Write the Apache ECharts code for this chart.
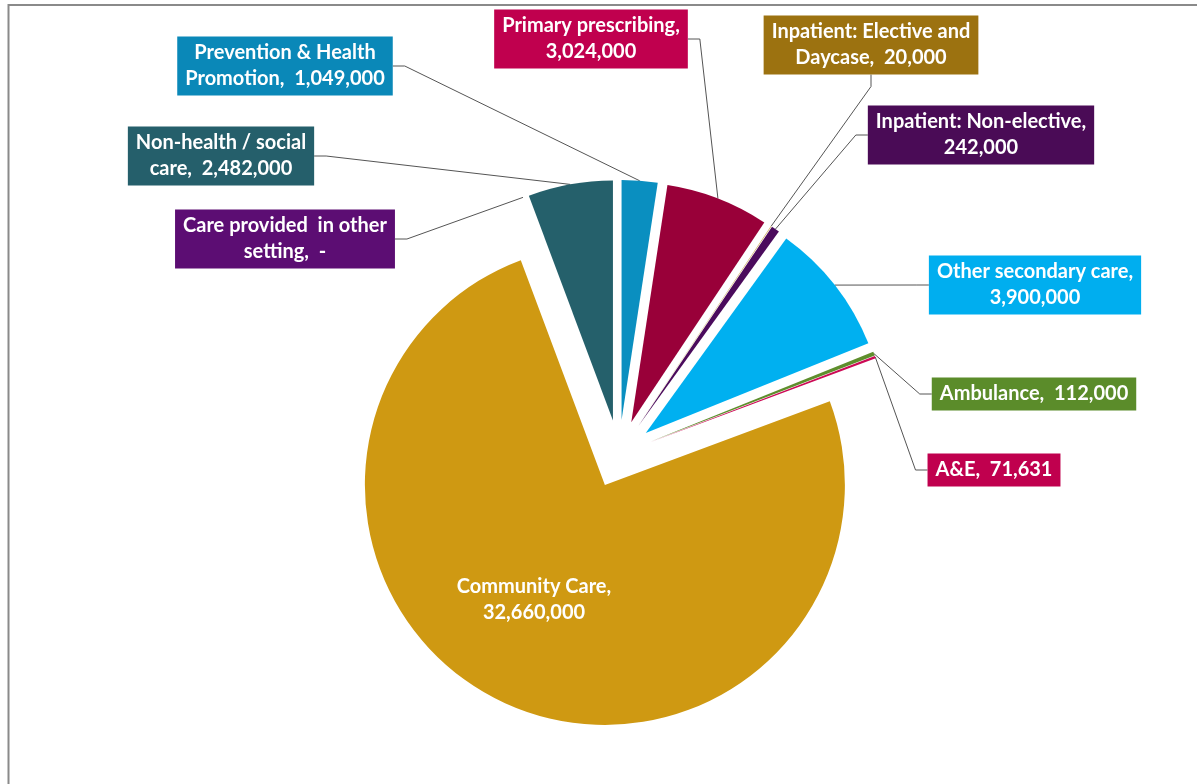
<!DOCTYPE html>
<html>
<head>
<meta charset="utf-8">
<script src="https://cdn.jsdelivr.net/npm/echarts@6/dist/echarts.min.js"></script>
<style>
  html, body { margin: 0; padding: 0; background: #ffffff; }
  #chart { width: 1197px; height: 784px; }
</style>
</head>
<body>
<div id="chart"></div>
<script>
// Spend by setting, slices in clockwise order from 12 o'clock
const categories = [
  'Prevention & Health\nPromotion',
  'Primary prescribing',
  'Inpatient: Elective and\nDaycase',
  'Inpatient: Non-elective',
  'Other secondary care',
  'Ambulance',
  'A&E',
  'Community Care',
  'Care provided  in other\nsetting',
  'Non-health / social\ncare'
];
const values = [1049000, 3024000, 20000, 242000, 3900000, 112000, 71631, 32660000, 0, 2482000];

// true where the value starts on its own line
const valueOnNewLine = [false, true, false, true, true, false, false, true, false, false];

const sliceColors = ['#0a8fc0', '#990039', '#c9a24a', '#4b0b5c', '#00b0f0', '#5e8e2c', '#cc0a55', '#cf9912', '#5c0d73', '#25606b'];
const labelColors = ['#0a88b8', '#c0004e', '#9c7210', '#4a0b56', '#00aeef', '#5b8c2a', '#c0004e', 'transparent', '#5c0d73', '#255f6b'];

// label box centres
const labelSpots = [
  [285, 66], [591, 39], [871, 45], [981, 135], [1035, 285],
  [1034, 394], [994, 470], [534, 600], [285, 239], [221, 156]
];

const PIE_CENTER = [619, 454];
const PIE_RADIUS = 240;
const EXPLODE = 34;

function fmtValue(v) {
  return v === 0 ? '-' : v.toLocaleString('en-US');
}

const chart = echarts.init(document.getElementById('chart'), null, { renderer: 'canvas' });

// exploded slices
const sliceData = categories.map((name, i) => ({
  name: name,
  value: values[i],
  selected: true,
  itemStyle: { color: sliceColors[i] }
}));

// labels ride on an invisible pie reaching the outer edge of the exploded slices
const labelData = categories.map((name, i) => {
  const item = {
    name: name,
    value: values[i],
    label: { backgroundColor: labelColors[i] }
  };
  if (i === 7) {
    item.label = { position: 'inside', backgroundColor: 'transparent', padding: 0 };
    item.labelLine = { show: false };
  }
  return item;
});

chart.setOption({
  animation: false,
  backgroundColor: '#ffffff',
  graphic: [{
    type: 'polyline',
    silent: true,
    shape: { points: [[8.5, 790], [8.5, 5], [1200, 5]] },
    style: { stroke: '#8a8a8a', lineWidth: 2, fill: null }
  }],
  series: [{
    type: 'pie',
    center: PIE_CENTER,
    radius: PIE_RADIUS,
    startAngle: 90,
    clockwise: true,
    selectedMode: 'multiple',
    selectedOffset: EXPLODE,
    silent: true,
    emphasis: { disabled: true },
    itemStyle: { borderWidth: 0 },
    label: { show: false },
    labelLine: { show: false },
    data: sliceData
  }, {
    type: 'pie',
    center: PIE_CENTER,
    radius: PIE_RADIUS + EXPLODE,
    startAngle: 90,
    clockwise: true,
    selectedMode: false,
    silent: true,
    avoidLabelOverlap: false,
    emphasis: { disabled: true },
    itemStyle: { color: 'rgba(0,0,0,0)', borderWidth: 0 },
    label: {
      show: true,
      position: 'outside',
      formatter: p => {
        const i = p.dataIndex;
        return p.name + ',' + (valueOnNewLine[i] ? '\n' : '  ') + fmtValue(p.value);
      },
      color: '#ffffff',
      fontFamily: 'Lato, "Noto Sans", sans-serif',
      fontWeight: 'bold',
      fontSize: 20,
      lineHeight: 26,
      align: 'center',
      padding: [4, 8, 3, 8]
    },
    labelLine: {
      show: true,
      length: 10,
      length2: 12,
      smooth: false,
      lineStyle: { color: '#555555', width: 1 }
    },
    labelLayout: params => {
      const s = labelSpots[params.dataIndex];
      return { x: s[0], y: s[1], align: 'center', verticalAlign: 'middle' };
    },
    data: labelData
  }]
});
</script>
</body>
</html>
